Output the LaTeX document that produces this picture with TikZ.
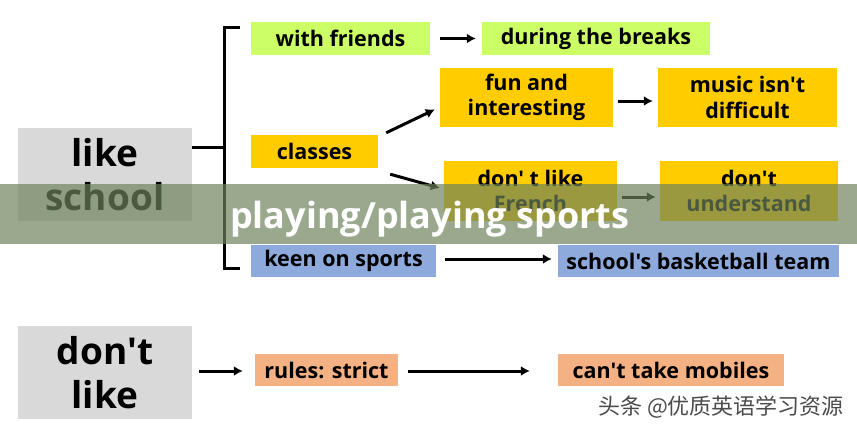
\documentclass[tikz,border=0pt]{standalone}
\usepackage{fontspec}
\setmainfont{Open Sans}[Ligatures=TeXOff]
\newfontfamily\cjk{Noto Sans CJK SC}
\usetikzlibrary{arrows.meta}
\definecolor{greybox}{RGB}{217,217,217}
\definecolor{limebox}{RGB}{204,255,102}
\definecolor{goldbox}{RGB}{255,204,0}
\definecolor{bluebox}{RGB}{142,169,219}
\definecolor{salmonbox}{RGB}{244,177,131}
\definecolor{bandcol}{RGB}{109,131,92}
\definecolor{wmcol}{RGB}{75,75,75}
\tikzset{
  bigbox/.style={fill=greybox, minimum width=174pt, minimum height=93pt, inner sep=0pt, align=center, font=\fontsize{37}{44}\selectfont\bfseries},
  smallbox/.style={minimum height=33pt, inner sep=0pt, align=center, font=\fontsize{21.5}{25.5}\selectfont\bfseries},
  arr/.style={line width=3pt, -{Latex[length=9pt,width=10pt]}},
  brk/.style={line width=3pt}
}
\begin{document}
\begin{tikzpicture}[x=1pt,y=-1pt]
\useasboundingbox (0,0) rectangle (857,431);
\fill[white] (0,0) rectangle (857,431);
% main boxes
\node[bigbox] (likeschool) at (105,174.5) {like\\school};
\node[bigbox] (dontlike) at (105,372.5) {don't\\like};
% row boxes
\node[smallbox, fill=limebox, minimum width=179pt] (friends) at (340.5,38.5) {\raisebox{-1pt}{with friends}};
\node[smallbox, fill=limebox, minimum width=228pt] (breaks) at (596,38.5) {\raisebox{-1pt}{during the breaks}};
\node[smallbox, fill=goldbox, minimum width=127pt] (classes) at (314.5,151.5) {\raisebox{-1pt}{classes}};
\node[smallbox, fill=goldbox, minimum width=173pt, minimum height=59pt] (fun) at (526.5,97.5) {\raisebox{-2pt}{fun and}\\\raisebox{-2pt}{interesting}};
\node[smallbox, fill=goldbox, minimum width=179pt, minimum height=59pt] (music) at (747.5,97.5) {\raisebox{-2pt}{music isn't}\\\raisebox{-2pt}{difficult}};
\node[smallbox, fill=goldbox, minimum width=173pt, minimum height=60pt] (french) at (530.5,191) {don' t like\\French};
\node[smallbox, fill=goldbox, minimum width=178pt, minimum height=60pt] (understand) at (749,191) {don't\\understand};
\node[smallbox, fill=bluebox, minimum width=185pt, minimum height=32pt] (keen) at (343.5,261) {\raisebox{-1pt}{keen on sports}};
\node[smallbox, fill=bluebox, minimum width=281pt, minimum height=32pt] (team) at (698.5,261) {\raisebox{-1pt}{school's basketball team}};
\node[smallbox, fill=salmonbox, minimum width=143pt, minimum height=32pt] (rules) at (326.5,370) {rules: strict};
\node[smallbox, fill=salmonbox, minimum width=226pt, minimum height=32pt] (mobiles) at (671,370) {can't take mobiles};
% bracket
\coordinate (brtop) at (240,27);
\coordinate (brbot) at (240,268);
\coordinate (brmid) at (224,147);
\draw[brk] ([yshift=27.5pt]likeschool.east) -- (brmid);
\draw[brk] (brtop) -- (224,27) -- (224,268) -- (brbot);
% arrows
\draw[arr, shorten <=10pt, shorten >=6pt] (friends.east) -- (breaks.west);
\draw[arr] ([xshift=8pt,yshift=2pt]classes.north east) -- ([xshift=-5pt,yshift=-12pt]fun.west);
\draw[arr] ([xshift=12pt,yshift=-6pt]classes.south east) -- ([xshift=-4pt,yshift=3pt]french.west);
\draw[arr, shorten <=5pt, shorten >=5pt] ([yshift=-3.5pt]fun.east) -- ([yshift=-3.5pt]music.west);
\draw[arr, shorten <=5pt, shorten >=4pt] ([yshift=-6pt]french.east) -- ([yshift=-6pt]understand.west);
\draw[arr, shorten <=9pt, shorten >=6pt] ([yshift=2pt]keen.east) -- ([yshift=2pt]team.west);
\draw[arr, shorten <=7pt, shorten >=12pt] ([yshift=1.5pt]dontlike.east) -- ([yshift=-1pt]rules.west);
\draw[arr, shorten <=10pt, shorten >=28pt] ([yshift=-1pt]rules.east) -- ([yshift=-1pt]mobiles.west);
% overlay band
\fill[bandcol, opacity=0.69] (0,184) rectangle (857,244);
\node[anchor=base west, text=white, inner sep=0pt, font=\fontsize{36}{40}\selectfont\bfseries] (band) at (230,228) {playing/playing sports};
% watermark
\node[anchor=base west, text=wmcol, inner sep=0pt, font=\cjk\fontsize{22}{24}\selectfont] (wm) at (598,414) {头条 @优质英语学习资源};
\end{tikzpicture}
\end{document}
